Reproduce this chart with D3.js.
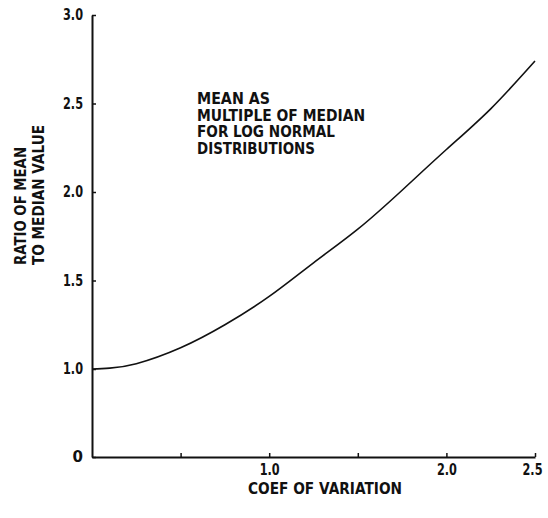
<!DOCTYPE html>
<html>
<head>
<meta charset="utf-8">
<script src="https://cdn.jsdelivr.net/npm/d3@7"></script>
<style>
  html, body { margin: 0; padding: 0; background: #fff; }
  svg { display: block; }
  text { font-family: "DejaVu Sans", sans-serif; font-weight: bold; fill: #111; }
</style>
</head>
<body>
<svg id="chart" width="548" height="518"></svg>
<script>
// Coefficient of variation and the corresponding mean/median ratio
const cvValues    = [0, 0.1, 0.25, 0.5, 0.75, 1.0, 1.25, 1.5, 1.75, 2.0, 2.25, 2.5];
const ratioValues = [1.0, 1.005, 1.03, 1.12, 1.25, 1.41, 1.60, 1.79, 2.01, 2.24, 2.47, 2.74];

const xTicks = [0.5, 1.0, 1.5, 2.0, 2.5];
const xTickLabels = ["", "1.0", "", "2.0", "2.5"];
const yTicks = [0, 1.0, 1.5, 2.0, 2.5, 3.0];
const yTickLabels = ["0", "1.0", "1.5", "2.0", "2.5", "3.0"];

const titleLines = ["MEAN AS", "MULTIPLE OF MEDIAN", "FOR LOG NORMAL", "DISTRIBUTIONS"];
const titleWidths = [73, 168, 138, 118];
const yTitleLines = ["RATIO OF MEAN", "TO MEDIAN VALUE"];
const yTitleWidths = [118, 140];
const xTitle = "COEF OF VARIATION";

const svg = d3.select("#chart");

// x runs linearly from 0 to 2.5; the y axis is broken between 0 and 1.0
const x = d3.scaleLinear().domain([0, 2.5]).range([92, 535]);
const y = d3.scaleLinear().domain([0, 1, 3]).range([457, 369, 15]);

const xAxis = d3.axisBottom(x)
  .tickValues(xTicks)
  .tickSizeInner(-4)
  .tickSizeOuter(0)
  .tickPadding(7)
  .tickFormat((d, i) => xTickLabels[i]);

const yAxis = d3.axisLeft(y)
  .tickValues(yTicks)
  .tickSizeInner(-4)
  .tickSizeOuter(0)
  .tickPadding(9)
  .tickFormat((d, i) => yTickLabels[i]);

const gx = svg.append("g").attr("transform", `translate(0,${y(0)})`).call(xAxis);
const gy = svg.append("g").attr("transform", `translate(${x(0)},0)`).call(yAxis);

[gx, gy].forEach(g => {
  g.select(".domain").attr("stroke", "#111").attr("stroke-width", 2);
  g.selectAll(".tick line").attr("stroke", "#111").attr("stroke-width", 1.5);
  g.selectAll(".tick text")
    .style("font-family", "'DejaVu Sans', sans-serif")
    .style("font-weight", "bold")
    .style("font-size", "15px")
    .attr("fill", "#111")
    .attr("textLength", function () { return this.textContent.length > 1 ? 20 : null; })
    .attr("lengthAdjust", "spacingAndGlyphs");
});
// keep the last x label inside the frame
gx.selectAll(".tick text").filter(d => d === 2.5).attr("x", -3);

// Curve
const line = d3.line()
  .x((d, i) => x(cvValues[i]))
  .y(d => y(d))
  .curve(d3.curveNatural);

svg.append("path")
  .datum(ratioValues)
  .attr("d", line)
  .attr("fill", "none")
  .attr("stroke", "#111")
  .attr("stroke-width", 1.6);

// Annotation block
titleLines.forEach((t, i) => {
  svg.append("text")
    .attr("x", 197)
    .attr("y", 104 + i * 16.5)
    .attr("textLength", titleWidths[i])
    .attr("lengthAdjust", "spacingAndGlyphs")
    .style("font-size", "15px")
    .text(t);
});

// Y axis title, rotated
yTitleLines.forEach((t, i) => {
  svg.append("text")
    .attr("transform", `translate(${26 + i * 18},265) rotate(-90)`)
    .attr("text-anchor", "start")
    .attr("textLength", yTitleWidths[i])
    .attr("lengthAdjust", "spacingAndGlyphs")
    .style("font-size", "15px")
    .text(t);
});

// X axis title
svg.append("text")
  .attr("x", 248)
  .attr("y", 494)
  .attr("textLength", 154)
  .attr("lengthAdjust", "spacingAndGlyphs")
  .style("font-size", "15px")
  .text(xTitle);
</script>
</body>
</html>
